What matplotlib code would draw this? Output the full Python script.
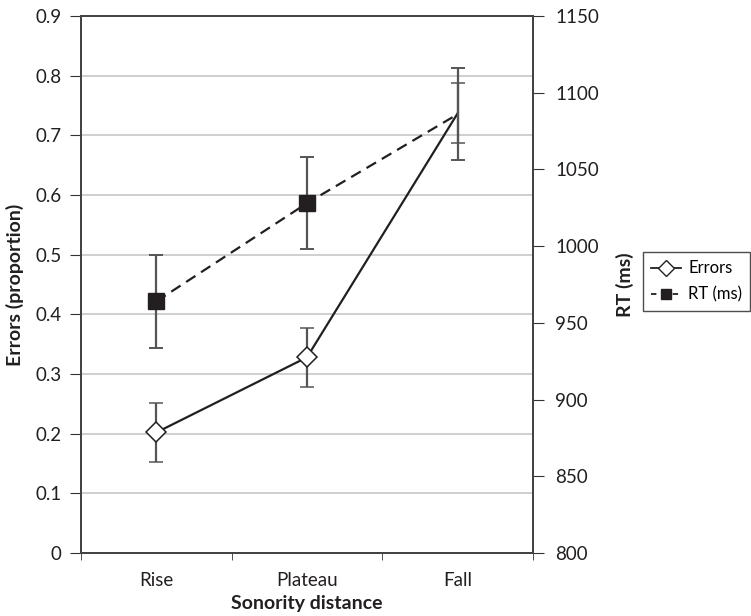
import matplotlib
matplotlib.use("Agg")
import matplotlib.pyplot as plt
from matplotlib.lines import Line2D
import numpy as np

plt.rcParams['font.family'] = ['Lato', 'DejaVu Sans']

categories = ['Rise', 'Plateau', 'Fall']
errors = [0.202, 0.328, 0.737]
errors_err = [0.05, 0.049, 0.05]
rt = [964, 1028, 1086]
rt_err = [30.5, 30, 30]

x = np.arange(len(categories))

fig = plt.figure(figsize=(7.51, 6.16), dpi=100)
ax = fig.add_axes([0.1079, 0.1023, 0.6018, 0.8717])
ax2 = ax.twinx()

# errors on left axis
ax.errorbar(x, errors, yerr=errors_err, color='#231f20', lw=1.6, ecolor='#555555',
            elinewidth=1.6, capsize=5, capthick=1.4, marker='D', markersize=10,
            markerfacecolor='white', markeredgecolor='#231f20', markeredgewidth=1.1,
            markevery=[0, 1], zorder=3)
ax.set_ylim(0, 0.9)
ax.set_yticks(np.arange(0, 0.91, 0.1))
ax.set_yticklabels(['0'] + [f'{v:.1f}' for v in np.arange(0.1, 0.91, 0.1)])
ax.set_xlim(-0.5, 2.5)
ax.set_xticks(x)
ax.set_xticklabels(categories)
ax.set_xticks([-0.5, 0.5, 1.5, 2.5], minor=True)
ax.tick_params(axis='x', which='major', length=0, pad=14, labelsize=13.5, colors='#231f20')
ax.tick_params(axis='x', which='minor', length=5, direction='out', color='#333333')
ax.tick_params(axis='y', length=8, direction='out', labelsize=13.5, color='#333333',
               labelcolor='#231f20', pad=6)
for v in np.arange(0.1, 0.85, 0.1):
    ax.axhline(v, color='#cccccc', lw=1.3, zorder=0)
ax.set_ylabel('Errors (proportion)', fontsize=14, fontweight='bold', color='#231f20', labelpad=8)
ax.set_xlabel('Sonority distance', fontsize=14, fontweight='bold', color='#231f20', labelpad=4)

# RT on right axis
ax2.errorbar(x, rt, yerr=rt_err, color='#231f20', lw=1.6, ls=(0, (5, 3)), ecolor='#555555',
             elinewidth=1.6, capsize=5, capthick=1.4, marker='s', markersize=12,
             markerfacecolor='#231f20', markeredgecolor='#231f20',
             markevery=[0, 1], zorder=3)
ax2.set_ylim(800, 1150)
ax2.set_yticks(np.arange(800, 1151, 50))
ax2.tick_params(axis='y', length=8, direction='out', labelsize=13.5, color='#333333',
                labelcolor='#231f20', pad=8)
ax2.set_ylabel('RT (ms)', fontsize=14, fontweight='bold', color='#231f20', labelpad=12)

for a in (ax, ax2):
    for s in a.spines.values():
        s.set_color('#444444')
        s.set_linewidth(1.4)

handles = [
    Line2D([], [], color='#231f20', lw=1.3, marker='D', markersize=8,
           markerfacecolor='white', markeredgecolor='#231f20'),
    Line2D([], [], color='#231f20', lw=1.3, ls=(0, (3, 3)), marker='s', markersize=7,
           markerfacecolor='#231f20'),
]
leg = fig.legend(handles, ['Errors', 'RT (ms)'], loc='upper left',
                 bbox_to_anchor=(643 / 751, 1 - 252 / 616), frameon=True, fancybox=False,
                 edgecolor='#231f20', fontsize=12, handlelength=1.8, borderpad=0.5,
                 labelspacing=0.6, handletextpad=0.4, borderaxespad=0)
leg.get_frame().set_linewidth(1.0)

fig.savefig('out.png', dpi=100)
